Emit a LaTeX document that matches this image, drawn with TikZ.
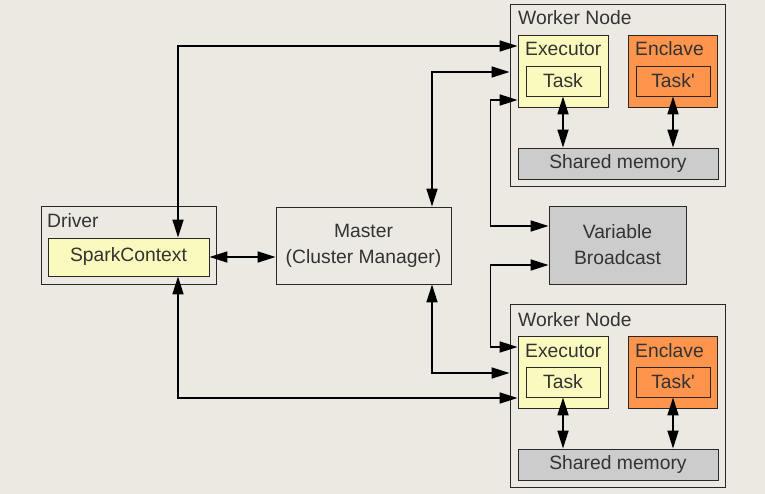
\documentclass[tikz,border=0pt]{standalone}
\usepackage{fontspec}
\setmainfont{Liberation Sans}
\usetikzlibrary{arrows.meta,calc}
\definecolor{bgc}{RGB}{236,233,226}
\definecolor{yel}{RGB}{250,250,190}
\definecolor{ora}{RGB}{255,148,77}
\definecolor{gry}{RGB}{204,204,204}
\definecolor{txt}{RGB}{51,51,51}
\definecolor{brd}{RGB}{40,40,40}
\begin{document}
\begin{tikzpicture}[x=1pt,y=-1pt,
  every node/.style={font=\fontsize{19.3}{22}\selectfont, text=txt, inner sep=0pt},
  box/.style={draw=brd, line width=0.9pt, rectangle, anchor=center},
  lbl/.style={anchor=base west},
  conn/.style={line width=1.7pt, {Triangle[length=18pt,width=11pt]}-{Triangle[length=18pt,width=11pt]}},
]
\fill[bgc] (0,0) rectangle (765,494);
\useasboundingbox (0,0) rectangle (765,494);

% Driver
\node[box, minimum width=175pt, minimum height=78pt] (driver) at (128.5,245) {};
\node[lbl] (driverl) at (47,228) {Driver};
\node[box, fill=yel, minimum width=161pt, minimum height=38pt] (spark) at (128.5,257) {SparkContext};

% Master
\node[box, minimum width=175pt, minimum height=77pt, align=center] (master) at (363.5,245.5) {Master\\[4pt](Cluster Manager)};

% Broadcast
\node[box, fill=gry, minimum width=137pt, minimum height=78pt, align=center] (bcast) at (617.5,245) {Variable\\[4pt]Broadcast};

% Worker 1
\node[box, minimum width=215pt, minimum height=182pt] (worker1) at (617.5,95) {};
\node[lbl] (worker1l) at (518,25) {Worker Node};
\node[box, fill=yel, minimum width=90pt, minimum height=72pt] (exec1) at (563,71) {};
\node[lbl] (exec1l) at (525,56) {Executor};
\node[box, fill=yel, minimum width=74pt, minimum height=30pt] (task1) at (563,81) {Task};
\node[box, fill=ora, minimum width=89pt, minimum height=72pt] (encl1) at (672.5,71) {};
\node[lbl] (encl1l) at (635,56) {Enclave};
\node[box, fill=ora, minimum width=74pt, minimum height=30pt] (taskp1) at (673,81) {Task\textquotesingle};
\node[box, fill=gry, minimum width=200pt, minimum height=31pt] (shared1) at (618,163.5) {Shared memory};

% Worker 2
\node[box, minimum width=215pt, minimum height=183pt] (worker2) at (617.5,396) {};
\node[lbl] (worker2l) at (518,326) {Worker Node};
\node[box, fill=yel, minimum width=90pt, minimum height=72pt] (exec2) at (563,372) {};
\node[lbl] (exec2l) at (525,357) {Executor};
\node[box, fill=yel, minimum width=74pt, minimum height=30pt] (task2) at (563,382) {Task};
\node[box, fill=ora, minimum width=89pt, minimum height=72pt] (encl2) at (672.5,372) {};
\node[lbl] (encl2l) at (635,357) {Enclave};
\node[box, fill=ora, minimum width=74pt, minimum height=30pt] (taskp2) at (673,382) {Task\textquotesingle};
\node[box, fill=gry, minimum width=200pt, minimum height=31pt] (shared2) at (618,464.5) {Shared memory};

% Connectors
\draw[conn] ([xshift=49.5pt]spark.north) |- ([yshift=25pt]exec1.west);
\draw[conn] ([xshift=68.5pt]master.north) |- ([yshift=23pt]worker1.west);
\draw[conn] ([yshift=-29pt]exec1.west) -- ++(-27,0) |- ([yshift=19pt]bcast.west);
\draw[conn] ([yshift=-20pt]bcast.west) -- ++(-58,0) |- ([yshift=25pt]exec2.west);
\draw[conn] ([xshift=68.5pt]master.south) |- ([yshift=23pt]worker2.west);
\draw[conn] ([xshift=49.5pt]spark.south) |- ([yshift=-26pt]exec2.west);
\draw[conn] (spark.east) -- (spark.east -| master.west);
\draw[conn] (task1.south) -- (task1.south |- shared1.north);
\draw[conn] (taskp1.south) -- (taskp1.south |- shared1.north);
\draw[conn] (task2.south) -- (task2.south |- shared2.north);
\draw[conn] (taskp2.south) -- (taskp2.south |- shared2.north);
\end{tikzpicture}
\end{document}
